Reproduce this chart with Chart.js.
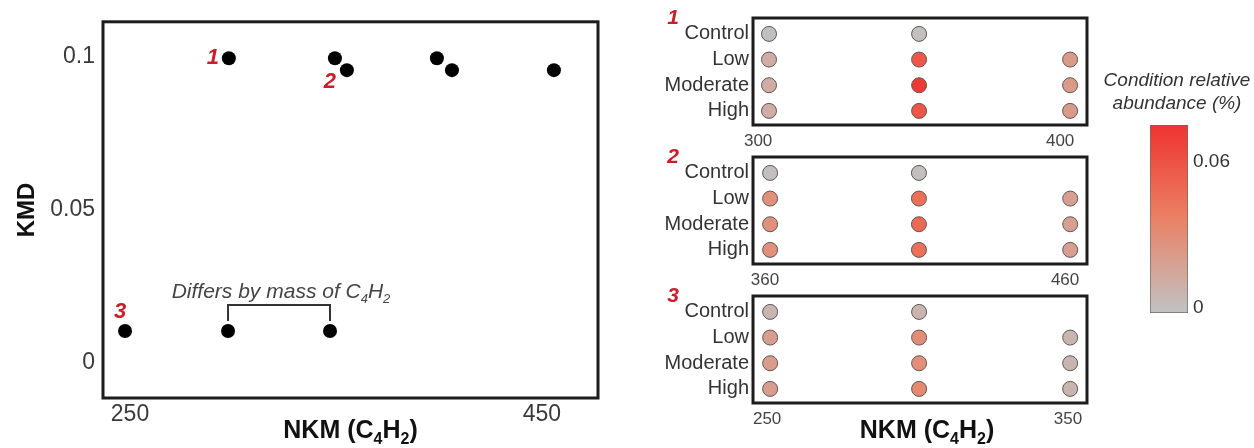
<!DOCTYPE html>
<html>
<head>
<meta charset="utf-8">
<script src="https://cdn.jsdelivr.net/npm/chart.js@4.4.1/dist/chart.umd.min.js"></script>
<style>
  html, body { margin: 0; padding: 0; background: #fff; }
  #wrap { position: relative; width: 1254px; height: 448px; overflow: hidden; }
  canvas { position: absolute; }
</style>
</head>
<body>
<div id="wrap">
  <canvas id="kmdChart" width="620" height="448" style="left:0;top:0"></canvas>
  <canvas id="panel1" width="460" height="157" style="left:640px;top:0"></canvas>
  <canvas id="panel2" width="460" height="157" style="left:640px;top:139px"></canvas>
  <canvas id="panel3" width="460" height="170" style="left:640px;top:278px"></canvas>
  <canvas id="cbar" width="164" height="270" style="left:1090px;top:60px"></canvas>
</div>
<script>
/* ── data ─────────────────────────────────────────── */
// KMD plot (left)
const series1Mass = [298, 349.5, 399];
const series1Kmd  = [0.0994, 0.0994, 0.0994];
const series2Mass = [355.3, 406.3, 455.8];
const series2Kmd  = [0.0955, 0.0955, 0.0955];
const series3Mass = [247.6, 297.6, 347.1];
const series3Kmd  = [0.0103, 0.0103, 0.0103];
const massTicks = [250, 450];
const kmdTicks  = [0, 0.05, 0.1];

// abundance panels (right), rows = conditions, cols = homologues
const conditions = ['Control', 'Low', 'Moderate', 'High'];
const panel1Mass = [303.6, 353.3, 403.3];
const panel1Ticks = [300, 400];
const panel1Abund = [
  [0, 0, null],
  [0.011, 0.057, 0.022],
  [0.011, 0.072, 0.022],
  [0.011, 0.058, 0.022]
];
const panel2Mass = [361.7, 411.3, 461.7];
const panel2Ticks = [360, 460];
const panel2Abund = [
  [0, 0, null],
  [0.028, 0.046, 0.019],
  [0.028, 0.049, 0.019],
  [0.028, 0.046, 0.019]
];
const panel3Mass = [251, 300.5, 350.7];
const panel3Ticks = [250, 350];
const panel3Abund = [
  [0.006, 0.006, null],
  [0.02, 0.030, 0.006],
  [0.02, 0.029, 0.006],
  [0.02, 0.032, 0.006]
];

// colour scale
const cbarTicks  = [0, 0.06];
const cbarMin = -0.002, cbarMax = 0.0752;
const cmapValues = [0, 0.0375, 0.075];
const cmapColors = ['#c3bfbf', '#eb8064', '#ee3430'];

/* ── helpers ──────────────────────────────────────── */
const FONT = '"Liberation Sans", Arial, sans-serif';
const RED  = '#c8202a';

function hexRgb(h) { return [1, 3, 5].map(i => parseInt(h.slice(i, i + 2), 16)); }
function cmap(v) {
  if (v <= cmapValues[0]) return cmapColors[0];
  for (let i = 1; i < cmapValues.length; i++) {
    if (v <= cmapValues[i]) {
      const t = (v - cmapValues[i-1]) / (cmapValues[i] - cmapValues[i-1]);
      const a = hexRgb(cmapColors[i-1]), b = hexRgb(cmapColors[i]);
      return `rgb(${a.map((c, k) => Math.round(c + (b[k] - c) * t)).join(',')})`;
    }
  }
  return cmapColors[cmapColors.length - 1];
}

function drawSubText(ctx, parts, cx, baseline, size, style, color) {
  const mainFont = `${style} ${size}px ${FONT}`;
  const subFont  = `${style} ${Math.round(size * 0.62)}px ${FONT}`;
  ctx.save();
  ctx.fillStyle = color; ctx.textAlign = 'left'; ctx.textBaseline = 'alphabetic';
  let w = 0;
  parts.forEach(([t, sub]) => { ctx.font = sub ? subFont : mainFont; w += ctx.measureText(t).width; });
  let x = cx - w / 2;
  parts.forEach(([t, sub]) => {
    ctx.font = sub ? subFont : mainFont;
    ctx.fillText(t, x, baseline + (sub ? size * 0.24 : 0));
    x += ctx.measureText(t).width;
  });
  ctx.restore();
}

function label(ctx, text, x, y, font, color) {
  ctx.save();
  ctx.font = font; ctx.fillStyle = color; ctx.textAlign = 'center'; ctx.textBaseline = 'middle';
  ctx.fillText(text, x, y);
  ctx.restore();
}

const framePlugin = {
  id: 'frame',
  afterDraw(chart) {
    const { ctx, chartArea: a } = chart;
    ctx.save();
    ctx.strokeStyle = '#1c1c1c'; ctx.lineWidth = 3;
    ctx.strokeRect(a.left, a.top, a.right - a.left, a.bottom - a.top);
    ctx.restore();
  }
};

const NO_GRID = { display: false, drawTicks: false };
const TITLE_PARTS = [['NKM (C', 0], ['4', 1], ['H', 0], ['2', 1], [')', 0]];
const toPts = (xs, ys) => xs.map((x, i) => ({ x, y: ys[i] }));

/* ── KMD scatter ──────────────────────────────────── */
const kmdNotes = {
  id: 'kmdNotes',
  afterDraw(chart) {
    const { ctx, scales: { x, y }, chartArea } = chart;
    const numFont = `italic bold 22px ${FONT}`;
    label(ctx, '1', x.getPixelForValue(series1Mass[0]) - 16, y.getPixelForValue(series1Kmd[0]), numFont, RED);
    label(ctx, '2', x.getPixelForValue(series2Mass[0]) - 17, y.getPixelForValue(series2Kmd[0]) + 12, numFont, RED);
    label(ctx, '3', x.getPixelForValue(series3Mass[0]) - 5, y.getPixelForValue(series3Kmd[0]) - 19, numFont, RED);

    // bracket between two homologues of series 3
    const x1 = x.getPixelForValue(series3Mass[1]), x2 = x.getPixelForValue(series3Mass[2]);
    const dy = y.getPixelForValue(series3Kmd[1]);
    ctx.save();
    ctx.strokeStyle = '#333'; ctx.lineWidth = 2;
    ctx.beginPath();
    ctx.moveTo(x1, dy - 10); ctx.lineTo(x1, dy - 26); ctx.lineTo(x2, dy - 26); ctx.lineTo(x2, dy - 10);
    ctx.stroke();
    ctx.restore();
    drawSubText(ctx, [['Differs by mass of C', 0], ['4', 1], ['H', 0], ['2', 1]], (x1 + x2) / 2 + 2, dy - 33, 21, 'italic', '#444');

    drawSubText(ctx, TITLE_PARTS, (chartArea.left + chartArea.right) / 2, 438, 25, 'bold', '#111');
  }
};

new Chart(document.getElementById('kmdChart'), {
  type: 'scatter',
  data: {
    datasets: [
      { label: '1', data: toPts(series1Mass, series1Kmd) },
      { label: '2', data: toPts(series2Mass, series2Kmd) },
      { label: '3', data: toPts(series3Mass, series3Kmd) }
    ]
  },
  options: {
    responsive: false, animation: false,
    layout: { padding: { top: 17, right: 22, left: 0, bottom: 0 } },
    plugins: { legend: { display: false }, tooltip: { enabled: false } },
    elements: { point: { radius: 7, backgroundColor: '#000', borderWidth: 0 } },
    scales: {
      x: {
        type: 'linear', min: 236.9, max: 477.2,
        afterBuildTicks: s => { s.ticks = massTicks.map(v => ({ value: v })); },
        afterFit: s => { s.height = 50; },
        grid: NO_GRID, border: { display: false },
        ticks: { padding: 3, maxRotation: 0, autoSkip: false, color: '#3a3a3a', font: { size: 23, family: FONT } }
      },
      y: {
        min: -0.0116, max: 0.1113,
        afterBuildTicks: s => { s.ticks = kmdTicks.map(v => ({ value: v })); },
        afterFit: s => { s.width = 103; },
        grid: NO_GRID, border: { display: false },
        ticks: { padding: 8, color: '#3a3a3a', font: { size: 23, family: FONT }, callback: v => String(v) },
        title: { display: true, text: 'KMD', color: '#111', padding: { top: 13, bottom: 0 }, font: { size: 24, weight: 'bold', family: FONT } }
      }
    }
  },
  plugins: [framePlugin, kmdNotes]
});

/* ── abundance panels ─────────────────────────────── */
function makePanel(id, num, mass, abund, ticks, xMin, xMax, showTitle) {
  const pts = [];
  abund.forEach((row, i) => row.forEach((v, j) => { if (v !== null) pts.push({ x: mass[j], y: i, v }); }));
  const canvas = document.getElementById(id);
  const notes = {
    id: 'panelNotes' + num,
    afterDraw(chart) {
      const { ctx, chartArea } = chart;
      label(ctx, String(num), 33, chartArea.top, `italic bold 21px ${FONT}`, RED);
      if (showTitle) drawSubText(ctx, TITLE_PARTS, 287, 160, 25, 'bold', '#111');
    }
  };
  new Chart(canvas, {
    type: 'scatter',
    data: {
      datasets: [{
        data: pts,
        pointBackgroundColor: pts.map(p => cmap(p.v)),
        pointBorderColor: '#5e5858', pointBorderWidth: 1, pointRadius: 7.5
      }]
    },
    options: {
      responsive: false, animation: false,
      layout: { padding: { top: 18, right: 13, left: 0, bottom: 0 } },
      plugins: { legend: { display: false }, tooltip: { enabled: false } },
      scales: {
        x: {
          type: 'linear', min: xMin, max: xMax,
          afterBuildTicks: s => { s.ticks = ticks.map(v => ({ value: v })); },
          afterFit: s => { s.height = canvas.height - 18 - 107; },
          grid: NO_GRID, border: { display: false },
          ticks: { padding: 6, maxRotation: 0, autoSkip: false, color: '#444', font: { size: 17, family: FONT } }
        },
        y: {
          min: -0.62, max: 3.55, reverse: true,
          afterBuildTicks: s => { s.ticks = conditions.map((_, i) => ({ value: i })); },
          afterFit: s => { s.width = 113; },
          grid: NO_GRID, border: { display: false },
          ticks: { padding: 4, autoSkip: false, color: '#333', font: { size: 20, family: FONT }, callback: v => conditions[v] }
        }
      }
    },
    plugins: [framePlugin, notes]
  });
}

makePanel('panel1', 1, panel1Mass, panel1Abund, panel1Ticks, 298.3, 408.9, false);
makePanel('panel2', 2, panel2Mass, panel2Abund, panel2Ticks, 356, 467.3, false);
makePanel('panel3', 3, panel3Mass, panel3Abund, panel3Ticks, 245.3, 356.3, true);

/* ── colour bar ───────────────────────────────────── */
const cbarNotes = {
  id: 'cbarNotes',
  afterDraw(chart) {
    const { ctx } = chart;
    const f = `italic 19px ${FONT}`;
    label(ctx, 'Condition relative', 87, 21, f, '#333');
    label(ctx, 'abundance (%)', 87, 44, f, '#333');
  }
};

new Chart(document.getElementById('cbar'), {
  type: 'bar',
  data: {
    labels: [''],
    datasets: [{
      data: [[cbarMin, cbarMax]],
      backgroundColor: ctx => {
        const chart = ctx.chart, y = chart.scales.y;
        if (!chart.chartArea || !y) return cmapColors[1];
        const g = chart.ctx.createLinearGradient(0, y.getPixelForValue(cbarMin), 0, y.getPixelForValue(cbarMax));
        cmapValues.forEach((v, i) => g.addColorStop(Math.min(1, Math.max(0, (v - cbarMin) / (cbarMax - cbarMin))), cmapColors[i]));
        return g;
      },
      borderColor: '#6a6a6a', borderWidth: 1, borderSkipped: false,
      barPercentage: 1, categoryPercentage: 1
    }]
  },
  options: {
    responsive: false, animation: false,
    layout: { padding: { top: 65, left: 60, right: 0, bottom: 17 } },
    plugins: { legend: { display: false }, tooltip: { enabled: false } },
    scales: {
      x: { display: false },
      y: {
        position: 'right', min: cbarMin, max: cbarMax,
        afterBuildTicks: s => { s.ticks = cbarTicks.map(v => ({ value: v })); },
        afterFit: s => { s.width = 66; },
        grid: NO_GRID, border: { display: false },
        ticks: { padding: 5, color: '#333', font: { size: 19, family: FONT }, callback: v => String(v) }
      }
    }
  },
  plugins: [cbarNotes]
});
</script>
</body>
</html>
